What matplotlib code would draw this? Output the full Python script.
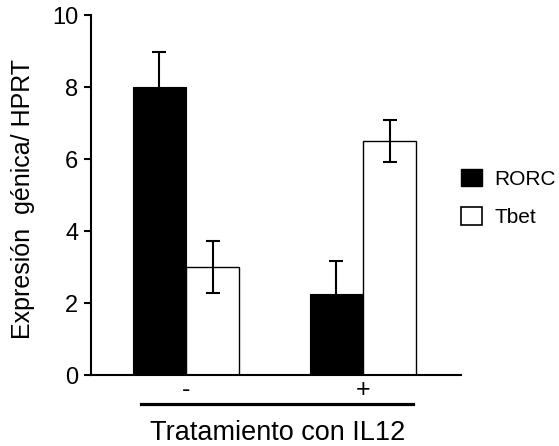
import matplotlib
matplotlib.use("Agg")
import matplotlib.pyplot as plt
import numpy as np
from matplotlib.patches import Patch

plt.rcParams['font.family'] = ['Liberation Sans', 'DejaVu Sans']

groups = ['-', '+']
series = ['RORC', 'Tbet']
rorc = [8.0, 2.25]
rorc_err = [0.97, 0.93]
tbet = [3.0, 6.5]
tbet_err = [0.72, 0.57]
yticks = [0, 2, 4, 6, 8, 10]

fig = plt.figure(figsize=(5.59, 4.46), dpi=100)
ax = fig.add_axes([91/559, 1-375/446, (461-91)/559, (375-15)/446])

x = np.arange(len(groups))
w = 0.30
ax.bar(x - w/2, rorc, w, color='black', edgecolor='black', linewidth=0.8, zorder=2)
ax.bar(x + w/2, tbet, w, color='white', edgecolor='black', linewidth=1.0, zorder=2)
ax.errorbar(x - w/2, rorc, yerr=rorc_err, fmt='none', ecolor='black', elinewidth=1.5,
            capsize=4.8, capthick=1.5, zorder=3)
ax.errorbar(x + w/2, tbet, yerr=tbet_err, fmt='none', ecolor='black', elinewidth=1.5,
            capsize=4.8, capthick=1.5, zorder=3)

ax.set_xlim(-0.537, 1.554)
ax.set_ylim(0, 10)
ax.set_yticks(yticks)
ax.set_yticklabels([str(t) for t in yticks], fontsize=17)
ax.set_xticks(x)
ax.set_xticklabels(groups, fontsize=18)
ax.tick_params(axis='x', length=0, pad=2)
ax.tick_params(axis='y', length=5, width=1.5, direction='out', pad=4)
for s in ['top', 'right']:
    ax.spines[s].set_visible(False)
for s in ['left', 'bottom']:
    ax.spines[s].set_linewidth(1.5)

ax.set_ylabel('Expresión  génica/ HPRT', fontsize=18)
ax.yaxis.set_label_coords(-0.151, 0.489)

# bracket line under tick labels
ax.plot([-0.254, 1.284], [-0.8, -0.8], color='black', lw=2.3, clip_on=False,
        transform=ax.transData)
ax.set_xlabel('Tratamiento con IL12', fontsize=19.5)
ax.xaxis.label.set_va('baseline')
ax.xaxis.set_label_coords(0.504, -0.181)

handles = [Patch(facecolor='black', edgecolor='black', label='RORC'),
           Patch(facecolor='white', edgecolor='black', linewidth=1.2, label='Tbet')]
leg = ax.legend(handles=handles, loc='upper left', bbox_to_anchor=(1.0, 0.572),
                frameon=False, fontsize=15, handlelength=1.0, handleheight=0.9,
                handletextpad=0.6, labelspacing=0.88, borderaxespad=0, borderpad=0)

fig.savefig('out.png', dpi=100)
